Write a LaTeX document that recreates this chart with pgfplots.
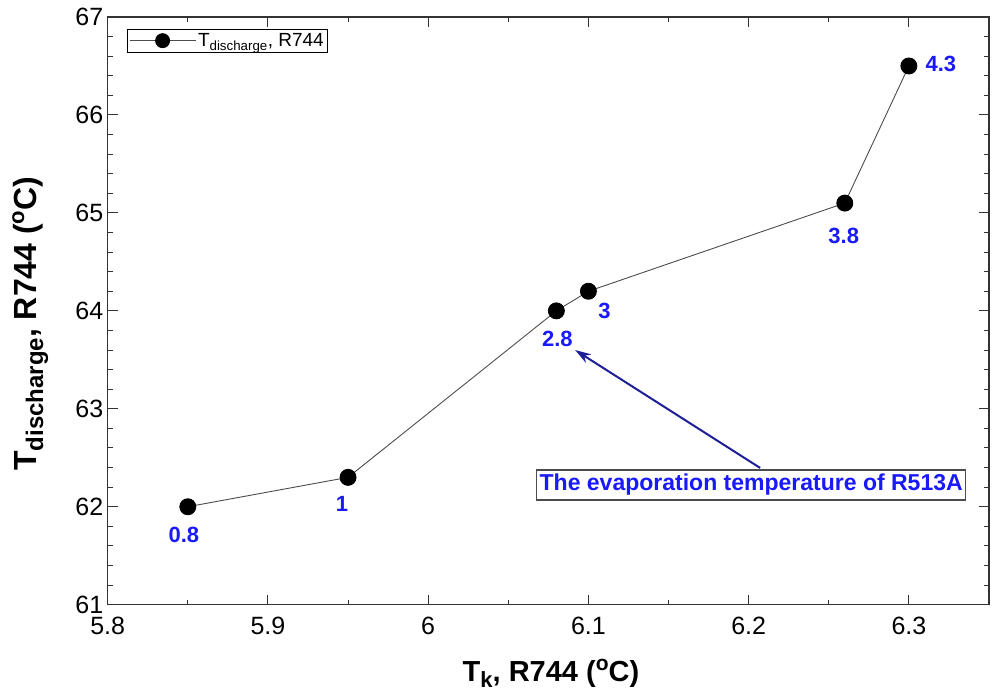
\documentclass[border=0pt]{standalone}
\usepackage{fontspec}
\setmainfont{Liberation Sans}
\usepackage{pgfplots}
\pgfplotsset{compat=1.18}
\usetikzlibrary{arrows.meta}
\definecolor{lbl}{RGB}{25,25,250}
\definecolor{arr}{RGB}{30,30,150}
\newcommand{\sbx}[3]{\raisebox{-#2}{\fontsize{#1}{#1}\selectfont #3}}
\newcommand{\spx}[3]{\raisebox{#2}{\fontsize{#1}{#1}\selectfont #3}}
\begin{document}
\begin{tikzpicture}
\useasboundingbox (-107.7pt,-95.3pt) rectangle (896.3pt,604.7pt);
\begin{axis}[
  at={(0pt,0pt)}, anchor=south west,
  scale only axis, width=881.3pt, height=587.7pt,
  xmin=5.8, xmax=6.35, ymin=61, ymax=67,
  xtick={5.8,5.9,6,6.1,6.2,6.3}, ytick={61,62,63,64,65,66,67},
  minor x tick num=1, minor y tick num=4,
  tick align=inside,
  major tick length=10pt, minor tick length=5pt,
  axis line style={line width=1.4pt, draw=black!80},
  every tick/.style={line width=1pt, draw=black!80},
  /pgf/number format/assume math mode=true,
  tick label style={font=\fontsize{25}{29}\selectfont},
  xticklabel style={yshift=-9pt},
  yticklabel style={xshift=-1pt},
  clip=false,
  xlabel={T\sbx{22pt}{6pt}{k}, R744 (\spx{21pt}{11pt}{o}C)},
  ylabel={T\sbx{24pt}{7pt}{discharge}, R744 (\spx{22pt}{12pt}{o}C)},
  xlabel style={at={(axis description cs:0.503,-0.116)}, anchor=center, font=\bfseries\fontsize{29}{33}\selectfont},
  ylabel style={at={(axis description cs:-0.088,0.478)}, anchor=center, font=\bfseries\fontsize{32}{36}\selectfont},
  legend style={at={(axis description cs:0.0216,0.9796)}, anchor=north west, draw=black, line width=0.8pt,
    font=\fontsize{19}{22}\selectfont, inner sep=2pt, row sep=0pt},
  legend cell align=left,
  legend image code/.code={\draw[mark repeat=2,mark phase=2,#1,mark size=7pt] plot coordinates {(0pt,0pt) (33pt,0pt) (66pt,0pt)};},
]
\addplot[draw=black!70, line width=0.9pt, mark=*, mark size=8pt,
  mark options={fill=black, draw=black, solid}]
coordinates {(5.85,62.0) (5.95,62.3) (6.08,64.0) (6.10,64.2) (6.26,65.1) (6.30,66.5)};
\addlegendentry{T\textsubscript{discharge}, R744}

\tikzset{dl/.style={font=\bfseries\fontsize{22}{25}\selectfont, text=lbl, inner sep=0pt}}
\node[dl, xshift=-4pt, yshift=-28pt] at (axis cs:5.85,62.0) {0.8};
\node[dl, xshift=-6pt, yshift=-27pt] at (axis cs:5.95,62.3) {1};
\node[dl, xshift=1pt, yshift=-28pt] at (axis cs:6.08,64.0) {2.8};
\node[dl, xshift=16pt, yshift=-20pt] at (axis cs:6.10,64.2) {3};
\node[dl, xshift=-1pt, yshift=-33pt] at (axis cs:6.26,65.1) {3.8};
\node[dl, xshift=32pt, yshift=2pt] at (axis cs:6.30,66.5) {4.3};

\draw[arr, line width=2pt, -{Stealth[length=16pt,width=10pt]}] (axis cs:6.2072,62.396) -- (axis cs:6.0917,63.600);
\node[draw=black!70, line width=1.2pt, fill=white, text=lbl, font=\bfseries\fontsize{23}{26}\selectfont,
  inner xsep=3pt, inner ysep=3pt, minimum height=30pt] at (axis cs:6.2016,62.222) {The evaporation temperature of R513A};
\end{axis}
\end{tikzpicture}
\end{document}
